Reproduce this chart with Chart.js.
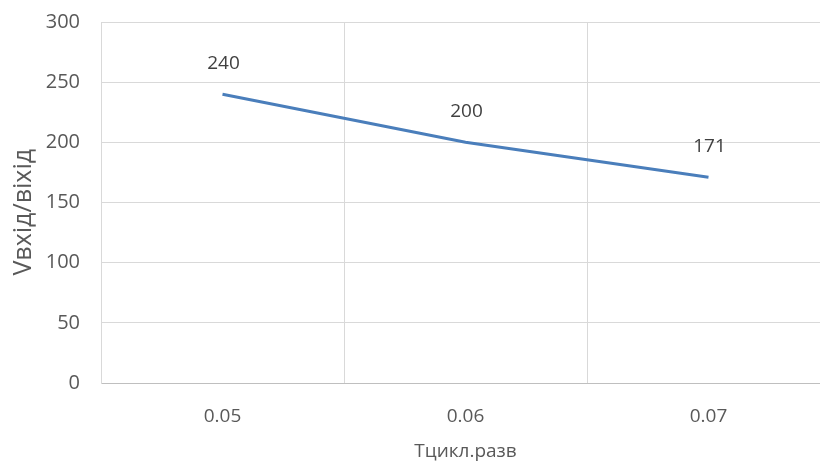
<!DOCTYPE html>
<html>
<head>
<meta charset="utf-8">
<script src="https://cdn.jsdelivr.net/npm/chart.js@4"></script>
<style>
html,body{margin:0;padding:0;background:#fff;overflow:hidden;}
#wrap{position:relative;width:840px;height:466px;}
</style>
</head>
<body>
<div id="wrap"><canvas id="c"></canvas></div>
<script>
const categories = ['0.05', '0.06', '0.07'];
const values = [240, 200, 171];
const yTicks = [0, 50, 100, 150, 200, 250, 300];
const xTitle = 'Tцикл.разв';
const yTitle = 'Vвхід/віхід';

const txt = '#595959';
const fam = "'Open Sans', 'Noto Sans', sans-serif";
const font = {family: fam, size: 19};

const labelPlugin = {
  id: 'pointLabels',
  afterDatasetsDraw(chart) {
    const ctx = chart.ctx;
    const meta = chart.getDatasetMeta(0);
    ctx.save();
    ctx.font = "19px " + fam;
    ctx.fillStyle = '#404040';
    ctx.textAlign = 'center';
    ctx.textBaseline = 'middle';
    meta.data.forEach((pt, i) => {
      ctx.fillText(String(values[i]), pt.x + 1, pt.y - 31);
    });
    ctx.restore();
  }
};

new Chart(document.getElementById('c'), {
  type: 'line',
  data: {
    labels: categories,
    datasets: [{
      data: values,
      borderColor: '#4a7ebb',
      borderWidth: 3,
      pointRadius: 0,
      pointHoverRadius: 0,
      tension: 0,
      fill: false
    }]
  },
  options: {
    responsive: true,
    maintainAspectRatio: false,
    animation: false,
    layout: {padding: {left: 0, top: 22, right: 10, bottom: 0}},
    plugins: {legend: {display: false}, tooltip: {enabled: false}},
    scales: {
      x: {
        type: 'category',
        offset: true,
        grid: {offset: true, color: '#d9d9d9', lineWidth: 1, drawTicks: false},
        border: {color: '#bfbfbf', width: 1},
        ticks: {color: txt, font: font, padding: 22, maxRotation: 0},
        title: {display: true, text: xTitle, color: txt, font: font, padding: {top: 0, bottom: 3}},
        afterFit(s) { s.height = 83; }
      },
      y: {
        min: 0, max: 300,
        afterBuildTicks(s) { s.ticks = yTicks.map(v => ({value: v})); },
        grid: {color: '#d9d9d9', lineWidth: 1, drawTicks: false},
        border: {color: '#d9d9d9', width: 1},
        ticks: {color: txt, font: {family: fam, size: 20}, padding: 21},
        title: {display: true, text: yTitle + '   ', color: txt, font: {family: fam, size: 25}, padding: {top: 9, bottom: 0}},
        afterFit(s) { s.width = 101; s.paddingTop = 0; }
      }
    }
  },
  plugins: [labelPlugin]
});
</script>
</body>
</html>
